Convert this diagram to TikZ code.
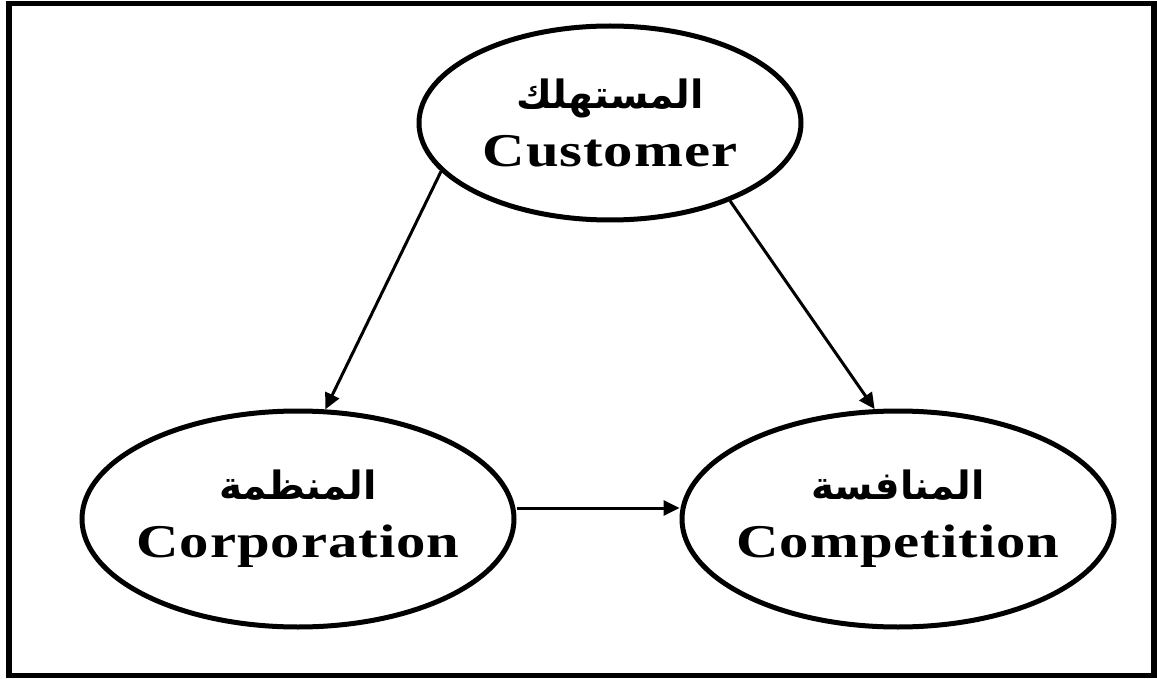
\documentclass[tikz,border=0pt]{standalone}
\usepackage{fontspec}
\setmainfont{Liberation Serif}
\newfontfamily\arabicfont[Script=Arabic]{DejaVu Sans}
\newfontfamily\widefont[FakeStretch=1.25, LetterSpace=2]{Liberation Serif}
\TeXXeTstate=1
\usetikzlibrary{shapes.geometric, arrows.meta}

\newcommand{\arline}[1]{{\arabicfont\bfseries\fontsize{39}{44}\selectfont\beginR #1\endR}}
\newcommand{\enline}[1]{{\widefont\bfseries\fontsize{47}{56}\selectfont #1}}

\begin{document}
\begin{tikzpicture}[
    x=1pt, y=-1pt,
    entity/.style={draw, ellipse, line width=5pt, inner xsep=-60pt, inner ysep=0pt, align=center, font=\fontsize{47}{58}\selectfont},
    arrow/.style={-{Triangle[length=16pt, width=15pt]}, line width=3pt}
]
    \useasboundingbox (0,0) rectangle (1157,679);
    \draw[line width=5.5pt] (9,3.5) rectangle (1154,675.5);

    % Main entities
    \node[entity, minimum width=382pt, minimum height=194pt] (customer) at (610,123) {\arline{المستهلك}\\\enline{Customer}};
    \node[entity, minimum width=432pt, minimum height=216pt] (corporation) at (298,519) {\arline{المنظمة}\\\enline{Corporation}};
    \node[entity, minimum width=432pt, minimum height=216pt] (competition) at (898,519) {\arline{المنافسة}\\\enline{Competition}};

    % Relationships
    \draw[arrow] (customer.196.4) -- (corporation.76.8);
    \draw[arrow] (customer.327.8) -- (competition.102.7);
    \draw[arrow] ([yshift=11pt]corporation.east) -- ([yshift=11pt]competition.west);
\end{tikzpicture}
\end{document}
